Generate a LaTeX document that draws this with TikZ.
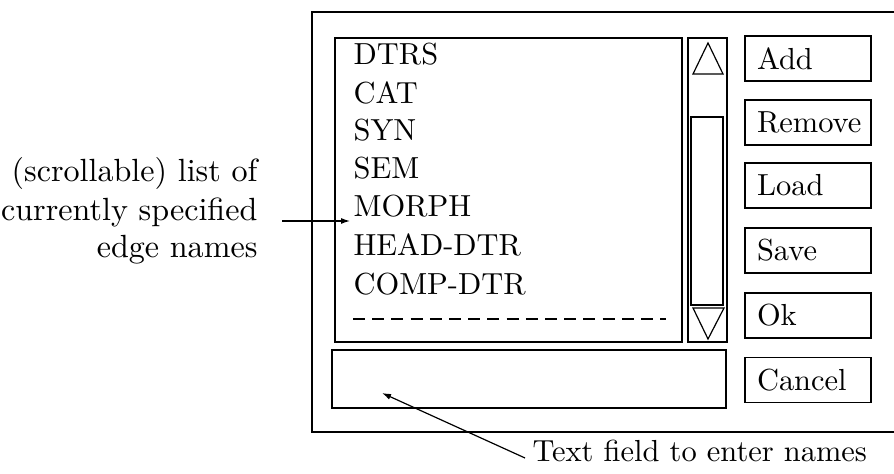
\documentclass[tikz,border=0pt]{standalone}
\usetikzlibrary{arrows.meta}
\begin{document}
\begin{tikzpicture}[x=0.3333pt,y=-0.3333pt,
  every node/.style={font=\fontsize{10.15}{12.6}\selectfont, inner sep=0pt},
  biglabel/.style={font=\fontsize{10.7}{12.6}\selectfont},
  frame/.style={draw, line width=0.4pt},
  field/.style={draw, line width=0.75pt},
  btn/.style={draw, line width=0.4pt, minimum width=126*0.3333pt, minimum height=45*0.3333pt, text width=102*0.3333pt, align=left},
  item/.style={anchor=base west},
  ptr/.style={line width=0.4pt, -{Latex[length=3pt,width=2pt]}}]
\useasboundingbox (0,0) rectangle (894,474);
% outer frame (open on the right)
\draw[frame] (894,12) -- (312,12) -- (312,432) -- (894,432);
% list box
\draw[frame] (335,38) rectangle (682,342);
% scrollbar
\draw[frame] (688,38) rectangle (727,342);
\draw[frame] (708,43) -- (723,74) -- (693,74) -- cycle;
\draw[frame] (691,117) rectangle (723,305);
\draw[frame] (693,308) -- (724,308) -- (708,339) -- cycle;
% text field
\draw[field] (332,350) rectangle (726,408);
% list items
\node[item] (i1) at (353,65) {DTRS};
\node[item] (i2) at (353,104) {CAT};
\node[item] (i3) at (353,141) {SYN};
\node[item] (i4) at (353,179) {SEM};
\node[item] (i5) at (353,217) {MORPH};
\node[item] (i6) at (353,256) {HEAD-DTR};
\node[item] (i7) at (353,294) {COMP-DTR};
\draw[line width=0.45pt, dash pattern=on 4pt off 2.4pt] (353,319) -- (666,319);
% buttons
\node[btn] (add) at (808,58.5) {Add};
\node[btn] (rem) at (808,122.5) {Remove};
\node[btn] (load) at (808,185.5) {Load};
\node[btn] (save) at (808,250.5) {Save};
\node[btn] (ok) at (808,315.5) {Ok};
\node[btn] (cancel) at (808,380) {Cancel};
% left annotation
\node[biglabel, anchor=base east] (l1) at (258,182) {(scrollable) list of};
\node[biglabel, anchor=base east] (l2) at (258,221) {currently specified};
\node[biglabel, anchor=base east] (l3) at (258,258) {edge names};
\coordinate (a1s) at (282,221);
\coordinate (a1e) at (350,221);
\draw[ptr] (a1s) -- (a1e);
% bottom annotation
\node[anchor=base west] (tf) at (532,461) {Text field to enter names};
\coordinate (a2s) at (525,458);
\coordinate (a2e) at (382,393);
\draw[ptr] (a2s) -- (a2e);
\end{tikzpicture}
\end{document}
